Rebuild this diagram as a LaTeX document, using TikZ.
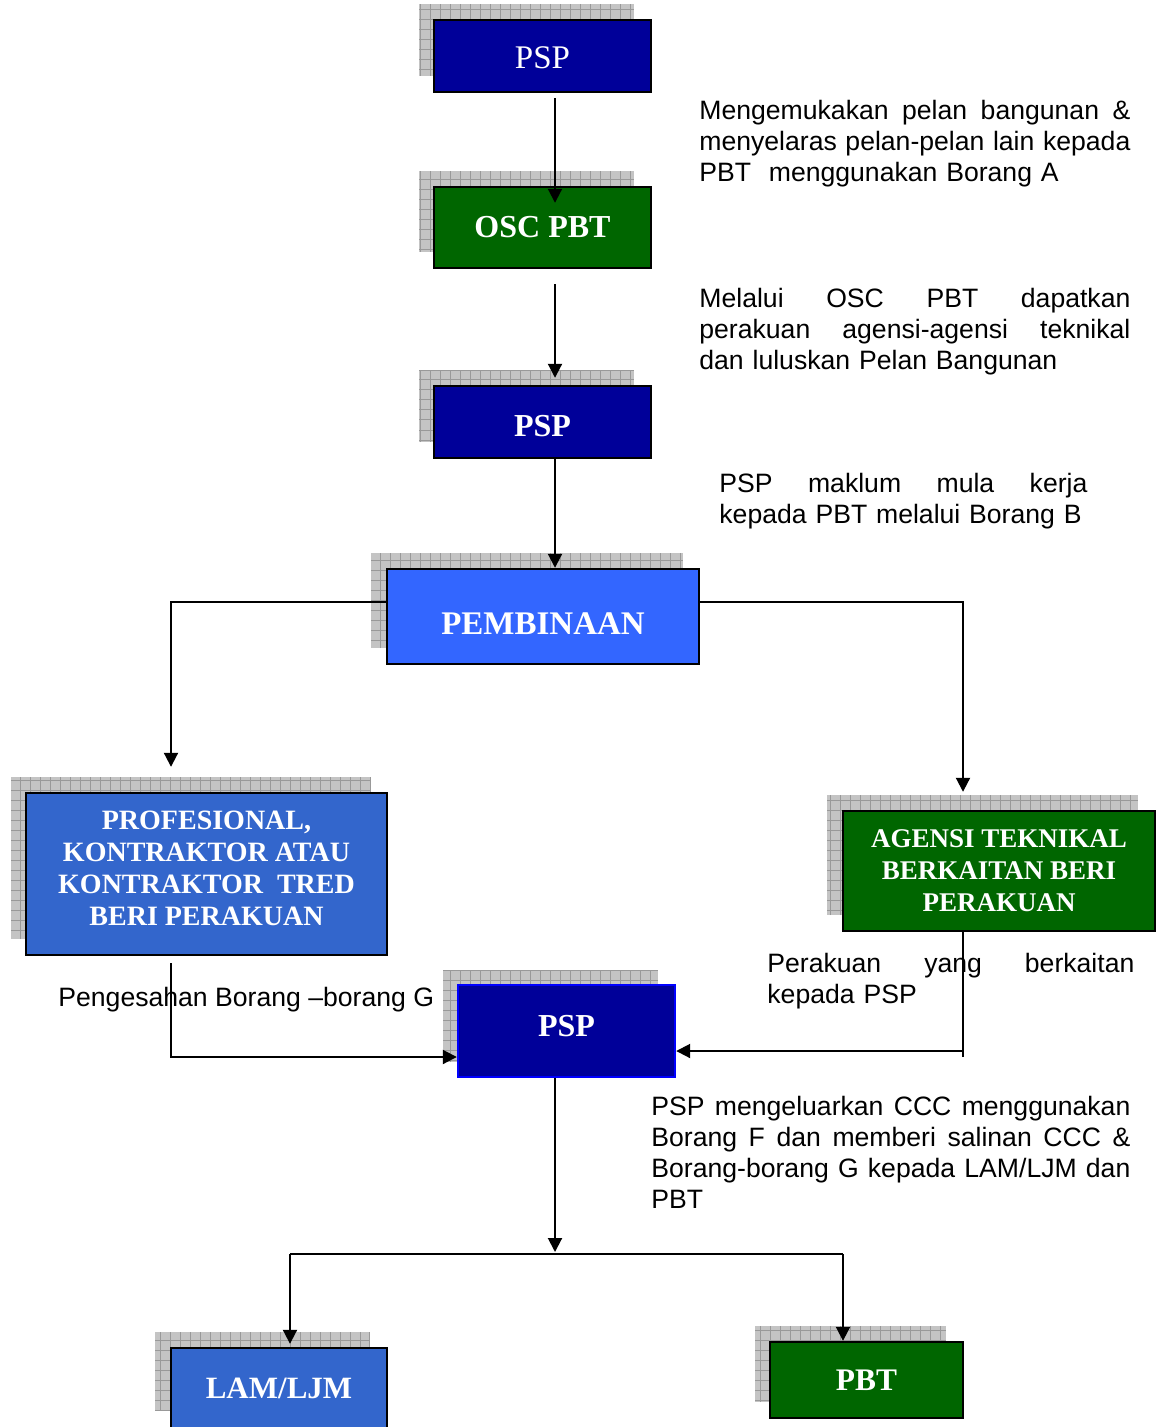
\documentclass[tikz,border=0pt]{standalone}
\usepackage{fontspec}
\setmainfont{Liberation Serif}
\newfontfamily\arialf{Liberation Sans}
\usetikzlibrary{arrows.meta,calc}
\definecolor{dblue}{HTML}{000099}
\definecolor{dgreen}{HTML}{006600}
\definecolor{brightblue}{HTML}{3366FF}
\definecolor{midblue}{HTML}{3366CC}
\definecolor{shgray}{HTML}{C4C4C4}
\definecolor{gridc}{HTML}{999999}
\newcommand\shad[4]{\fill[shgray] (#1,#2) rectangle (#3,#4);
  \draw[gridc,line width=0.5pt,step=5pt] (#1,#2) grid (#3,#4);}
\newcommand\jl[2]{\leavevmode\hbox to #1{\spaceskip=\fontdimen2\font plus 1fil\relax #2}}
\newcommand\mv[2]{\raisebox{#1}[\height][\depth]{#2}}
\begin{document}
\begin{tikzpicture}[x=0.5pt,y=-0.5pt,
  box/.style={draw=black,line width=1.2pt,text=white,align=center,inner sep=0pt},
  arr/.style={line width=1pt,-{Triangle[length=7pt,width=7pt]}},
  conn/.style={line width=1pt},
  note/.style={font=\arialf\fontsize{13.3}{15.5}\selectfont,align=left,anchor=base west,inner sep=0pt}]
\useasboundingbox (0,0) rectangle (1160,1427);
\clip (0,0) rectangle (1160,1427);

% shadows
\shad{419}{4}{634}{76}
\shad{419}{171}{634}{252}
\shad{419}{370}{634}{442}
\shad{371}{553}{683}{648}
\shad{11}{777}{371}{939}
\shad{827}{795}{1138}{915}
\shad{443}{970}{658}{1062}
\shad{155}{1332}{370}{1410}
\shad{755}{1326}{946}{1402}

% boxes
\node[box,fill=dblue,minimum width=108.5pt,minimum height=36pt,font=\fontsize{16.5}{19}\selectfont] (psp1) at (542.5,56) {\mv{-1pt}{PSP}};
\node[box,fill=dgreen,minimum width=108.5pt,minimum height=40.5pt,font=\bfseries\fontsize{16}{19}\selectfont] (osc) at (542.5,227.5) {OSC PBT};
\node[box,fill=dblue,minimum width=108.5pt,minimum height=36pt,font=\bfseries\fontsize{16}{19}\selectfont] (psp2) at (542.5,422) {\mv{-2pt}{PSP}};
\node[box,fill=brightblue,minimum width=156pt,minimum height=47.5pt,font=\bfseries\fontsize{16.5}{19}\selectfont] (pemb) at (543,616.5) {\mv{-3.5pt}{PEMBINAAN}};
\node[box,fill=midblue,minimum width=180.5pt,minimum height=81pt,font=\bfseries\fontsize{14}{16}\selectfont] (prof) at (206.5,874) {\mv{1.5pt}{\begin{tabular}{@{}c@{}}PROFESIONAL,\\KONTRAKTOR ATAU\\KONTRAKTOR~ TRED\\BERI PERAKUAN\end{tabular}}};
\node[box,fill=dgreen,minimum width=156pt,minimum height=60pt,font=\bfseries\fontsize{13.5}{16}\selectfont] (agen) at (999,871) {AGENSI TEKNIKAL\\BERKAITAN BERI\\PERAKUAN};
\node[box,draw=blue,fill=dblue,minimum width=108.5pt,minimum height=46pt,font=\bfseries\fontsize{16}{19}\selectfont] (psp3) at (566.5,1031) {\mv{2.5pt}{PSP}};
\node[box,fill=midblue,minimum width=108pt,minimum height=42pt,font=\bfseries\fontsize{15.5}{19}\selectfont] (lam) at (279,1390) {\mv{1pt}{LAM/LJM}};
\node[box,fill=dgreen,minimum width=96.5pt,minimum height=38pt,font=\bfseries\fontsize{15.7}{19}\selectfont] (pbt) at (866.5,1380) {PBT};

% connectors
\coordinate (ax) at (555,0);
\coordinate (bl) at (171,602);
\coordinate (br) at (963,602);
\coordinate (bp) at (171,1057);
\coordinate (ba) at (963,1051);
\coordinate (hl) at (290,1254);
\coordinate (hr) at (843,1254);
\draw[arr] ($(ax |- psp1.south)+(0,5)$) -- ($(ax |- osc.north)+(0,17)$);
\draw[arr] ($(ax |- osc.south)+(0,15)$) -- ($(ax |- psp2.north)+(0,-7)$);
\draw[arr] (ax |- psp2.south) -- (ax |- pemb.north);
\draw[arr] (pemb.west |- bl) -- (bl) -- ($(bl |- prof.north)+(0,-25)$);
\draw[arr] (pemb.east |- br) -- (br) -- ($(br |- agen.north)+(0,-18)$);
\draw[arr] ($(bp |- prof.south)+(0,7)$) -- (bp) -- (psp3.west |- bp);
\draw[conn] (ba |- agen.south) -- ($(ba)+(0,6)$);
\draw[arr] (ba) -- (psp3.east |- ba);
\draw[arr] (ax |- psp3.south) -- ($(ax |- hl)+(0,-2)$);
\draw[conn] (hl) -- (hr);
\draw[arr] (hl) -- ($(hl |- lam.north)+(0,-3)$);
\draw[arr] (hr) -- (hr |- pbt.north);

% notes
\node[note,text width=215.5pt] (n1) at (699,119.5) {\jl{215.5pt}{Mengemukakan pelan bangunan \&}\\\jl{215.5pt}{menyelaras pelan-pelan lain kepada}\\PBT~ menggunakan Borang A};
\node[note,text width=215.5pt] (n2) at (699,307.5) {\jl{215.5pt}{Melalui OSC PBT dapatkan}\\\jl{215.5pt}{perakuan agensi-agensi teknikal}\\dan luluskan Pelan Bangunan};
\node[note,text width=184pt] (n3) at (719,492.5) {\jl{184pt}{PSP maklum mula kerja}\\kepada PBT melalui Borang B};
\node[note,text width=183.5pt] (n4) at (767,972.5) {\jl{183.5pt}{Perakuan yang berkaitan}\\kepada PSP};
\node[note] (n5) at (58,1006.5) {Pengesahan Borang –borang G};
\node[note,text width=239.5pt] (n6) at (651,1115.5) {\jl{239.5pt}{PSP mengeluarkan CCC menggunakan}\\\jl{239.5pt}{Borang F dan memberi salinan CCC \&}\\\jl{239.5pt}{Borang-borang G kepada LAM/LJM dan}\\PBT};
\end{tikzpicture}
\end{document}
